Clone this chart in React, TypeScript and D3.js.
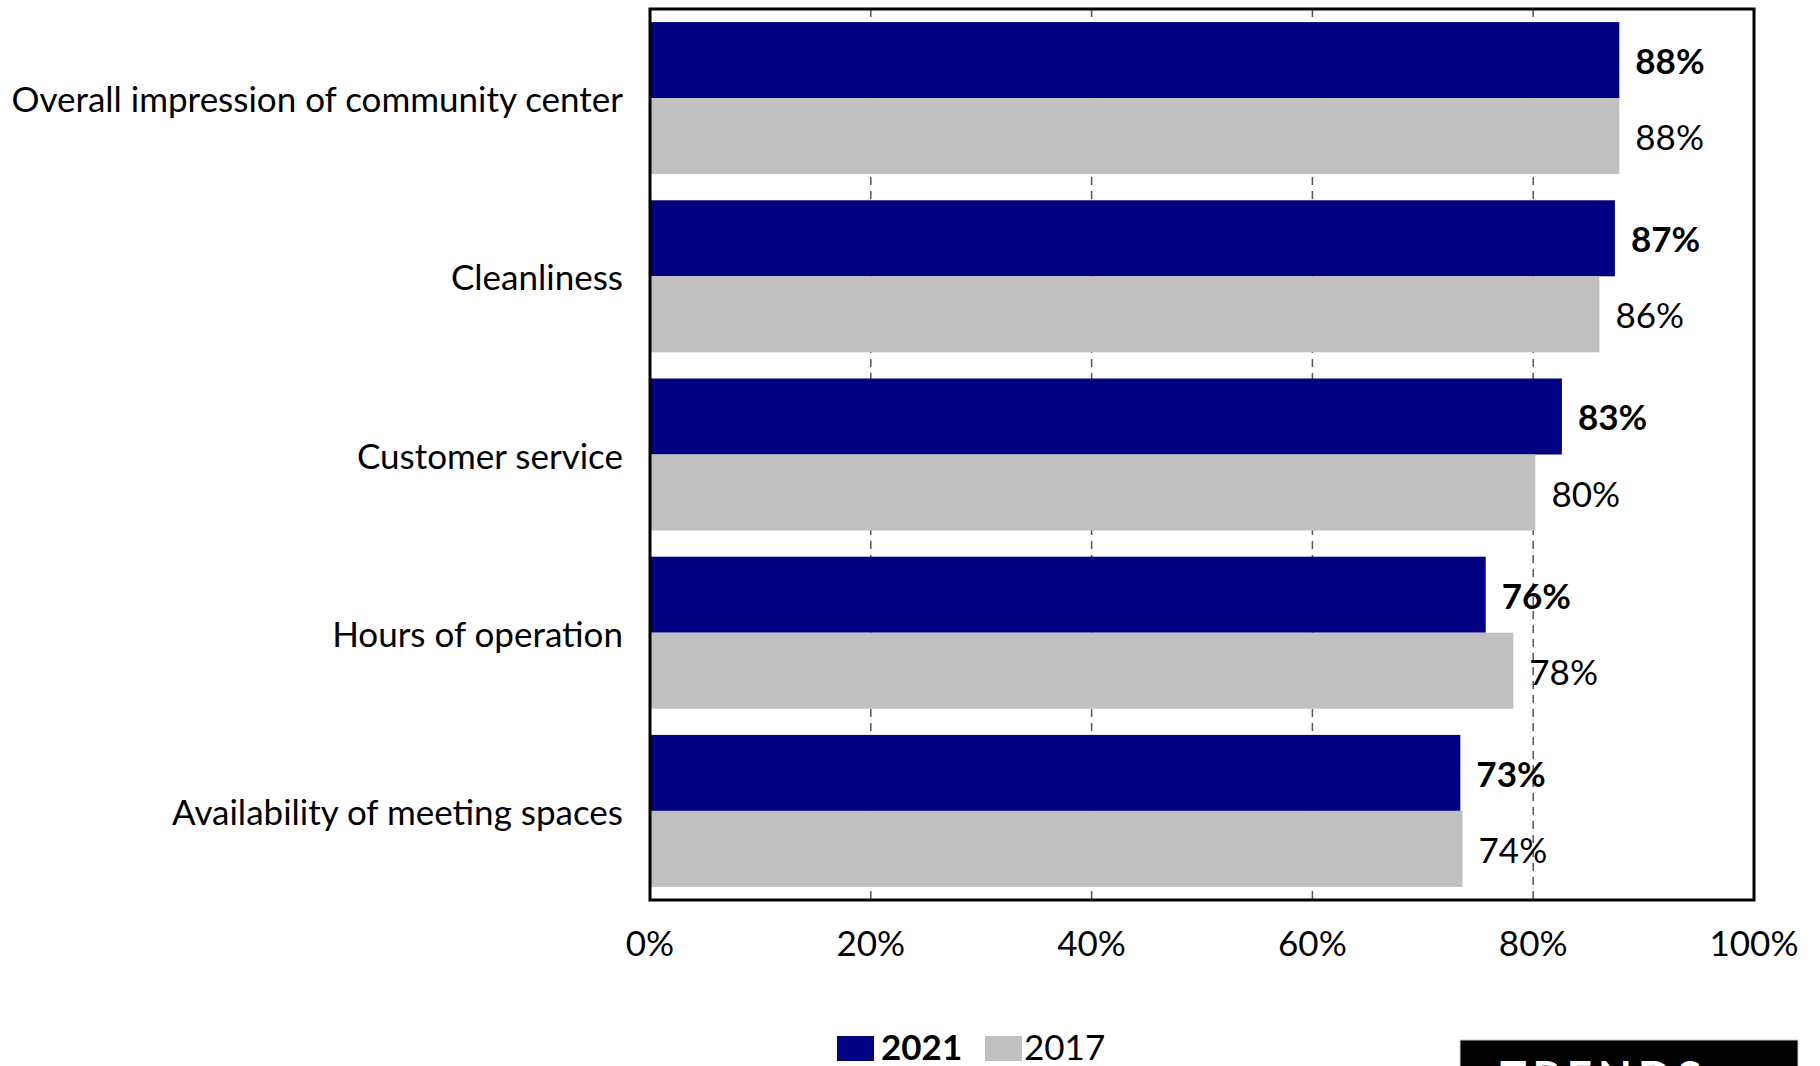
import React from "react";
import * as d3 from "d3";

const categories = [
  "Overall impression of community center",
  "Cleanliness",
  "Customer service",
  "Hours of operation",
  "Availability of meeting spaces",
];
const series2021 = [87.8, 87.4, 82.6, 75.7, 73.4];
const series2017 = [87.8, 86.0, 80.2, 78.2, 73.6];
const xTicks = [0, 20, 40, 60, 80, 100];
const seriesNames = ["2021", "2017"];
const colors = ["#000080", "#C0C0C0"];

const W = 1820;
const H = 1066;
const M = { left: 650, right: 1754, top: 9, bottom: 900 };
const FONT = "Lato, 'Open Sans', sans-serif";
const FS = 35;

export default function App() {
  const x = d3.scaleLinear().domain([0, 100]).range([M.left, M.right]);
  const y = d3
    .scaleBand<string>()
    .domain(categories)
    .range([M.top, M.bottom])
    .paddingInner(0.147)
    .paddingOuter(0.0735);
  const bw = y.bandwidth() / 2;
  const fmt = (v: number) => `${Math.round(v)}%`;

  return (
    <div style={{ position: "absolute", left: 0, top: 0 }}>
      <svg width={W} height={H} style={{ display: "block", background: "#fff" }}>
        {xTicks.filter((t) => t > 0 && t < 100).map((t) => (
          <line
            key={t}
            x1={x(t)}
            x2={x(t)}
            y1={M.top}
            y2={M.bottom}
            stroke="#555"
            strokeWidth={1.5}
            strokeDasharray="8,6"
          />
        ))}
        {categories.map((c, i) => (
          <g key={c}>
            <rect x={x(0)} y={y(c)!} width={x(series2021[i]) - x(0)} height={bw} fill={colors[0]} />
            <rect x={x(0)} y={y(c)! + bw} width={x(series2017[i]) - x(0)} height={bw} fill={colors[1]} />
            <text
              x={x(series2021[i]) + 16}
              y={y(c)! + bw / 2}
              dominantBaseline="central"
              fontFamily={FONT}
              fontSize={FS}
              fontWeight="bold"
              fill="#000"
            >
              {fmt(series2021[i])}
            </text>
            <text
              x={x(series2017[i]) + 16}
              y={y(c)! + bw * 1.5}
              dominantBaseline="central"
              fontFamily={FONT}
              fontSize={FS}
              fill="#000"
            >
              {fmt(series2017[i])}
            </text>
            <text
              x={623}
              y={y(c)! + bw}
              textAnchor="end"
              dominantBaseline="central"
              fontFamily={FONT}
              fontSize={FS}
              fill="#000"
            >
              {c}
            </text>
          </g>
        ))}
        <rect
          x={M.left}
          y={M.top}
          width={M.right - M.left}
          height={M.bottom - M.top}
          fill="none"
          stroke="#000"
          strokeWidth={3}
        />
        {xTicks.map((t) => (
          <text
            key={t}
            x={x(t)}
            y={942}
            textAnchor="middle"
            dominantBaseline="central"
            fontFamily={FONT}
            fontSize={FS}
            fill="#000"
          >
            {`${t}%`}
          </text>
        ))}
        <rect x={837} y={1036} width={37} height={25} fill={colors[0]} />
        <text x={881} y={1060} fontFamily={FONT} fontSize={FS} fontWeight="bold" fill="#000">
          {seriesNames[0]}
        </text>
        <rect x={985} y={1036} width={37} height={25} fill={colors[1]} />
        <text x={1024} y={1060} fontFamily={FONT} fontSize={FS} fill="#000">
          {seriesNames[1]}
        </text>
        <rect x={1460} y={1040} width={338} height={30} fill="#000" stroke="#ccc" strokeWidth={1} />
        <text
          x={1500}
          y={1093}
          fontFamily={FONT}
          fontSize={44}
          fontWeight="bold"
          letterSpacing={6}
          fill="#fff"
        >
          TRENDS
        </text>
      </svg>
    </div>
  );
}
